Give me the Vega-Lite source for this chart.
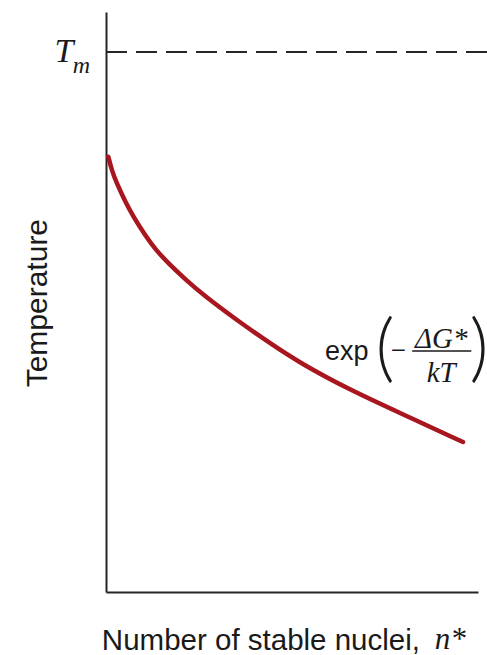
{
  "$schema": "https://vega.github.io/schema/vega-lite/v6.json",
  "autosize": {"type": "none"},
  "width": 372,
  "height": 580,
  "padding": {"left": 106, "top": 12, "right": 9, "bottom": 63},
  "background": "white",
  "config": {
    "view": {"stroke": null},
    "axis": {"domainColor": "#262626", "domainWidth": 2, "ticks": false, "labels": false, "grid": false, "title": null}
  },
  "datasets": {
    "curve": [
      {"n": 0.62, "T": 75.05},
      {"n": 1.61, "T": 72.59},
      {"n": 2.88, "T": 70.47},
      {"n": 5.11, "T": 67.41},
      {"n": 7.34, "T": 64.71},
      {"n": 10.48, "T": 61.55},
      {"n": 13.17, "T": 59.14},
      {"n": 17.2, "T": 56.38},
      {"n": 21.24, "T": 53.97},
      {"n": 26.16, "T": 51.21},
      {"n": 35.13, "T": 46.9},
      {"n": 44.09, "T": 42.88},
      {"n": 52.15, "T": 39.48},
      {"n": 65.59, "T": 34.83},
      {"n": 79.03, "T": 30.86},
      {"n": 95.97, "T": 25.86}
    ]
  },
  "layer": [
    {
      "data": {"values": [{"n": 0, "n2": 102.5, "T": 93.1}]},
      "mark": {"type": "rule", "stroke": "#262626", "strokeWidth": 2, "strokeDash": [21, 9]},
      "encoding": {
        "x": {"field": "n", "type": "quantitative", "scale": {"domain": [0, 100], "nice": false, "zero": false}, "axis": {"orient": "bottom"}},
        "x2": {"field": "n2"},
        "y": {"field": "T", "type": "quantitative", "scale": {"domain": [0, 100], "nice": false, "zero": false}, "axis": {"orient": "left"}}
      }
    },
    {
      "data": {"name": "curve"},
      "mark": {"type": "line", "stroke": "#a8161f", "strokeWidth": 4.5, "interpolate": "basis", "strokeCap": "round"},
      "encoding": {
        "x": {"field": "n", "type": "quantitative"},
        "y": {"field": "T", "type": "quantitative"}
      }
    },
    {
      "data": {"values": [{"label": "T", "n": -11.3, "T": 91.4}]},
      "mark": {"type": "text", "font": "Liberation Serif", "fontStyle": "italic", "fontSize": 34, "align": "center", "baseline": "alphabetic", "color": "#1a1a1a"},
      "encoding": {"x": {"field": "n", "type": "quantitative"}, "y": {"field": "T", "type": "quantitative"}, "text": {"field": "label"}}
    },
    {
      "data": {"values": [{"label": "m", "n": -6.6, "T": 89.5}]},
      "mark": {"type": "text", "font": "Liberation Serif", "fontStyle": "italic", "fontSize": 24, "align": "center", "baseline": "alphabetic", "color": "#1a1a1a"},
      "encoding": {"x": {"field": "n", "type": "quantitative"}, "y": {"field": "T", "type": "quantitative"}, "text": {"field": "label"}}
    },
    {
      "data": {"values": [{"label": "exp", "n": 58.9, "T": 40.0}]},
      "mark": {"type": "text", "font": "Liberation Sans", "fontSize": 27, "align": "left", "baseline": "alphabetic", "color": "#1a1a1a"},
      "encoding": {"x": {"field": "n", "type": "quantitative"}, "y": {"field": "T", "type": "quantitative"}, "text": {"field": "label"}}
    },
    {
      "data": {"values": [{"label": "(", "n": 75.0, "T": 37.8}, {"label": ")", "n": 100.3, "T": 37.8}]},
      "mark": {"type": "text", "font": "Lato", "fontWeight": 300, "fontSize": 74, "align": "center", "baseline": "alphabetic", "color": "#1a1a1a"},
      "encoding": {"x": {"field": "n", "type": "quantitative"}, "y": {"field": "T", "type": "quantitative"}, "text": {"field": "label"}}
    },
    {
      "data": {"values": [{"label": "−", "n": 78.6, "T": 40.2}]},
      "mark": {"type": "text", "font": "Liberation Serif", "fontSize": 27, "align": "center", "baseline": "alphabetic", "color": "#1a1a1a"},
      "encoding": {"x": {"field": "n", "type": "quantitative"}, "y": {"field": "T", "type": "quantitative"}, "text": {"field": "label"}}
    },
    {
      "data": {"values": [{"label": "ΔG*", "n": 90.1, "T": 42.07}, {"label": "kT", "n": 90.1, "T": 36.2}]},
      "mark": {"type": "text", "font": "Liberation Serif", "fontStyle": "italic", "fontSize": 29, "align": "center", "baseline": "alphabetic", "color": "#1a1a1a"},
      "encoding": {"x": {"field": "n", "type": "quantitative"}, "y": {"field": "T", "type": "quantitative"}, "text": {"field": "label"}}
    },
    {
      "data": {"values": [{"n": 82.3, "n2": 98.2, "T": 41.55}]},
      "mark": {"type": "rule", "stroke": "#1a1a1a", "strokeWidth": 1.5},
      "encoding": {"x": {"field": "n", "type": "quantitative"}, "x2": {"field": "n2"}, "y": {"field": "T", "type": "quantitative"}}
    },
    {
      "data": {"values": [{"label": "Temperature", "n": -15.9, "T": 49.8}]},
      "mark": {"type": "text", "font": "Liberation Sans", "fontSize": 30, "angle": 270, "align": "center", "baseline": "alphabetic", "color": "#1a1a1a"},
      "encoding": {"x": {"field": "n", "type": "quantitative"}, "y": {"field": "T", "type": "quantitative"}, "text": {"field": "label"}}
    },
    {
      "data": {"values": [{"label": "Number of stable nuclei,", "n": 84.4, "T": -10.0}]},
      "mark": {"type": "text", "font": "Liberation Sans", "fontSize": 29.5, "align": "right", "baseline": "alphabetic", "color": "#1a1a1a"},
      "encoding": {"x": {"field": "n", "type": "quantitative"}, "y": {"field": "T", "type": "quantitative"}, "text": {"field": "label"}}
    },
    {
      "data": {"values": [{"label": "n*", "n": 88.4, "T": -9.8}]},
      "mark": {"type": "text", "font": "Liberation Serif", "fontStyle": "italic", "fontSize": 31, "align": "left", "baseline": "alphabetic", "color": "#1a1a1a"},
      "encoding": {"x": {"field": "n", "type": "quantitative"}, "y": {"field": "T", "type": "quantitative"}, "text": {"field": "label"}}
    }
  ]
}
